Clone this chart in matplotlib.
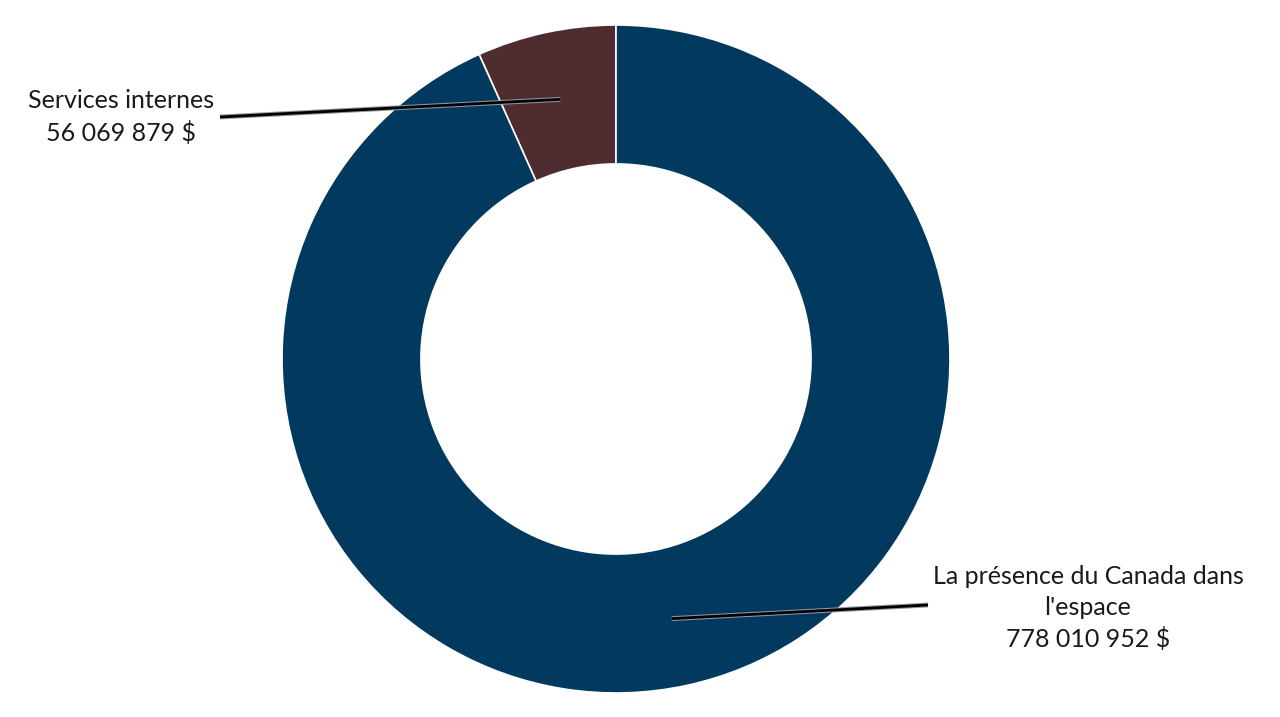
import numpy as np
import matplotlib.pyplot as plt
import matplotlib.patheffects as pe

plt.rcParams['font.family'] = ['Lato', 'DejaVu Sans']

labels = ["Services internes", "La présence du Canada dans\nl'espace"]
values = [56069879, 778010952]
colors = ['#4E2C2F', '#023A5F']

def fmt(v):
    return f"{v:,}".replace(",", " ") + " $"

fig = plt.figure(figsize=(12.8, 7.17), dpi=100)
ax = fig.add_axes([0, 0, 1, 1])

cx, cy, R = 616, 358, 334
wedges, _ = ax.pie(values, colors=colors, startangle=90, counterclock=True,
                   center=(cx, cy), radius=R, frame=True,
                   wedgeprops=dict(width=R * 0.416, edgecolor='white', linewidth=1.2))
ax.set_xlim(0, 1280)
ax.set_ylim(0, 717)
ax.set_aspect('equal')
ax.axis('off')

# positions des étiquettes (centre du texte, point d'attache de la ligne)
label_pos = [((121, 600), (220, 600)), ((1088, 109), (928, 112))]

for w, lab, v, (tpos, lend) in zip(wedges, labels, values, label_pos):
    ang = np.deg2rad((w.theta1 + w.theta2) / 2)
    sx = cx + 0.795 * R * np.cos(ang)
    sy = cy + 0.795 * R * np.sin(ang)
    ax.plot([sx, lend[0]], [sy, lend[1]], color='black', lw=2, solid_capstyle='butt',
            path_effects=[pe.Stroke(linewidth=3.5, foreground='#8d99a2'), pe.Normal()])
    ax.text(tpos[0], tpos[1], f"{lab}\n{fmt(v)}", ha='center', va='center',
            fontsize=18, color='#1a1a1a', linespacing=1.4)

fig.savefig('out.png', dpi=100)
